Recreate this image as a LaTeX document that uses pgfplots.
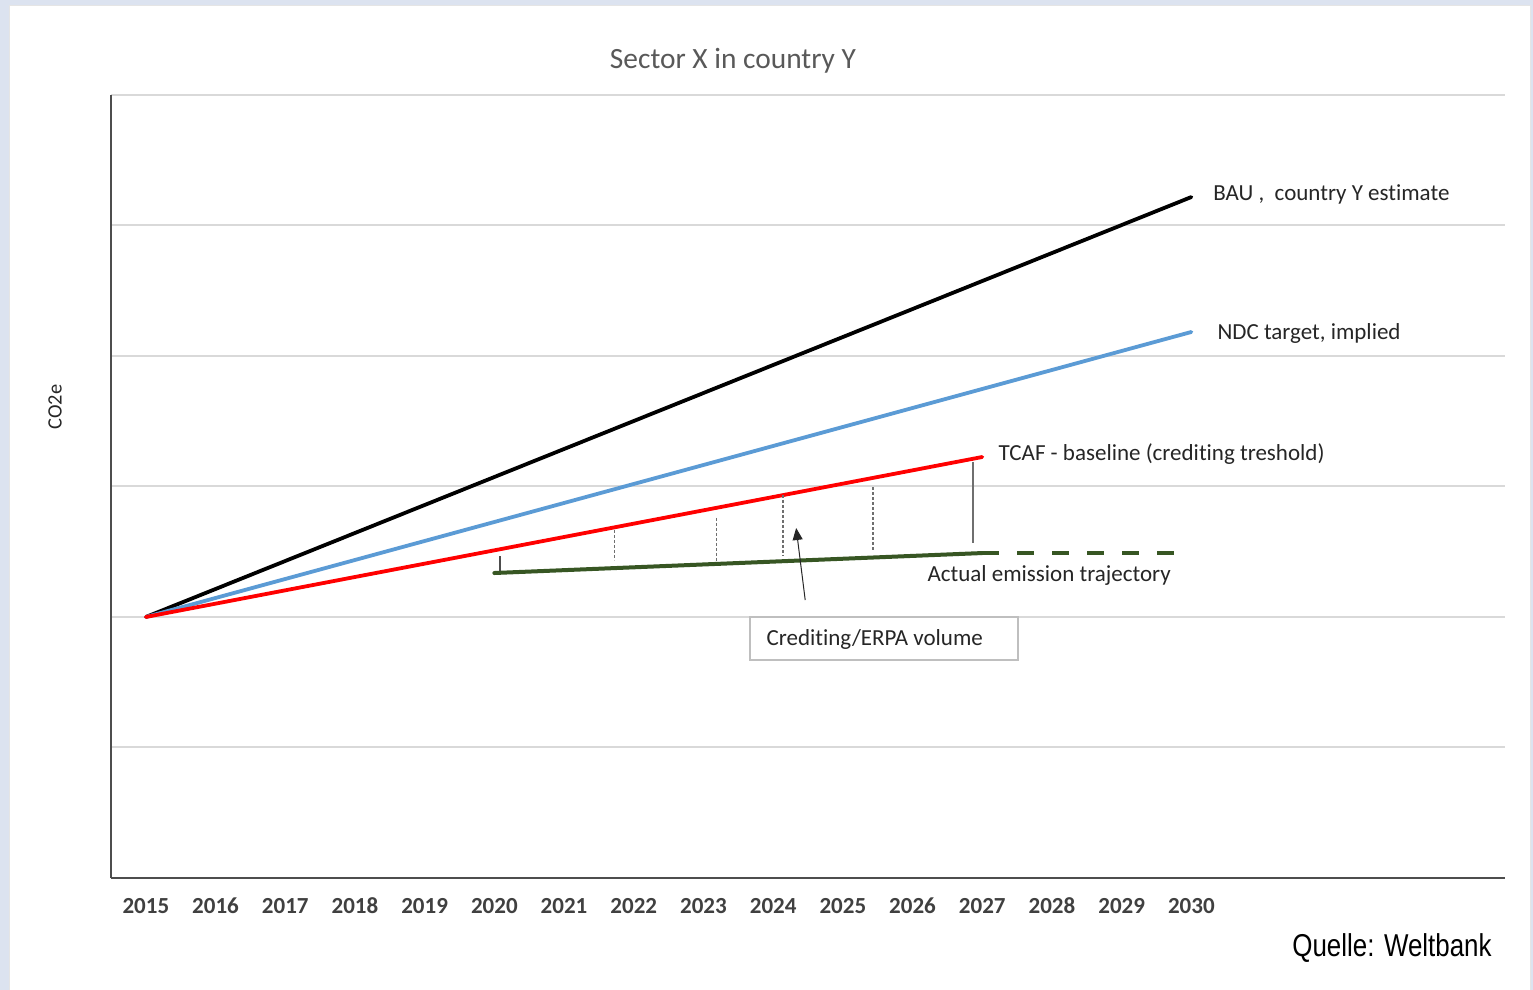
\documentclass[border=0pt]{standalone}
\usepackage{pgfplots}
\pgfplotsset{compat=1.18}
\usetikzlibrary{arrows.meta}
\usepackage{fontspec}
\setmainfont{Carlito}[Ligatures={NoCommon}]
\newfontfamily\quellefont[FakeStretch=0.82]{Liberation Sans}
\definecolor{frameblue}{HTML}{DCE3F0}
\definecolor{gridgray}{HTML}{D9D9D9}
\definecolor{axisgray}{HTML}{4D4D4D}
\definecolor{titlegray}{HTML}{595959}
\definecolor{labelblack}{HTML}{262626}
\definecolor{ticklab}{HTML}{404040}
\definecolor{ndcblue}{HTML}{5B9BD5}
\definecolor{actgreen}{HTML}{375623}
\definecolor{vgray}{HTML}{6F6F6F}
\definecolor{boxgray}{HTML}{BFBFBF}
\begin{document}
\begin{tikzpicture}
\fill[frameblue] (0pt,0pt) rectangle (766.5pt,495pt);
\fill[white] (4.5pt,0pt) rectangle (765.5pt,492pt);
\draw[black!10, line width=0.6pt] (4.8pt,0pt) -- (4.8pt,492.2pt) -- (765.2pt,492.2pt) -- (765.2pt,0pt);
\begin{axis}[
  at={(55.5pt,56pt)}, anchor=south west,
  scale only axis, width=697pt, height=391.5pt,
  xmin=2014.5, xmax=2034.5, ymin=0, ymax=6,
  axis x line*=bottom, axis y line*=left,
  axis line style={-, draw=axisgray, line width=1.4pt},
  xtick={2015,2016,2017,2018,2019,2020,2021,2022,2023,2024,2025,2026,2027,2028,2029,2030},
  xticklabels={2015,2016,2017,2018,2019,2020,2021,2022,2023,2024,2025,2026,2027,2028,2029,2030},
  ytick={1,2,3,4,5,6}, yticklabels={},
  ymajorgrids, grid style={draw=gridgray, line width=1pt},
  major tick length=0pt,
  x tick label style={font=\fontsize{11.5}{13}\selectfont\bfseries, text=ticklab, anchor=base, yshift=-18pt},
  clip=false,
]
% BAU
\addplot[black, line width=1.9pt, line cap=round] coordinates {(2015,2.0) (2030,5.218)};
% NDC
\addplot[ndcblue, line width=1.9pt, line cap=round] coordinates {(2015,2.0) (2030,4.184)};
% TCAF baseline
\addplot[red, line width=1.9pt, line cap=round] coordinates {(2015,2.0) (2027,3.226)};
% small tick at start of actual
\addplot[axisgray, line width=1pt] coordinates {(2020.08,2.337) (2020.08,2.467)};
% dotted verticals
\addplot[vgray, line width=0.7pt, dash pattern=on 1.3pt off 1.2pt] coordinates {(2021.72,2.667) (2021.72,2.437)};
\addplot[vgray, line width=0.7pt, dash pattern=on 1.3pt off 1.2pt] coordinates {(2023.19,2.759) (2023.19,2.421)};
\addplot[vgray, line width=0.7pt, dash pattern=on 1.3pt off 1.2pt] coordinates {(2024.14,2.935) (2024.14,2.475)};
\addplot[vgray, line width=0.7pt, dash pattern=on 1.3pt off 1.2pt] coordinates {(2025.43,2.996) (2025.43,2.498)};
\addplot[vgray, line width=0.7pt] coordinates {(2026.87,3.188) (2026.87,2.567)};
% actual emissions
\addplot[actgreen, line width=2pt, line cap=round] coordinates {(2020.0,2.337) (2027.0,2.49)};
\addplot[actgreen, line width=2pt, dash pattern=on 8.5pt off 9pt] coordinates {(2027.0,2.49) (2029.85,2.49)};
% arrow
\addplot[labelblack, line width=0.5pt, -{Triangle[length=6pt,width=5pt]}] coordinates {(2024.46,2.13) (2024.33,2.682)};
% box
\draw[boxgray, line width=0.7pt, fill=white] (axis cs:2023.67,1.670) rectangle (axis cs:2027.51,2.0);
\node[anchor=west, inner sep=0pt, yshift=-0.5pt, font=\fontsize{11.5}{13}\selectfont, text=labelblack] at (axis cs:2023.90,1.835) {Crediting/ERPA volume};
% labels
\node[anchor=west, inner sep=0pt, yshift=-1pt, font=\fontsize{11.5}{13}\selectfont, text=labelblack] at (axis cs:2030.31,5.257) {BAU ,\ \ country Y estimate};
\node[anchor=west, inner sep=0pt, yshift=-1pt, font=\fontsize{11.5}{13}\selectfont, text=labelblack] at (axis cs:2030.37,4.184) {NDC target, implied};
\node[anchor=west, inner sep=0pt, yshift=-1pt, font=\fontsize{11.5}{13}\selectfont, text=labelblack] at (axis cs:2027.23,3.264) {TCAF - baseline (crediting treshold)};
\node[anchor=west, inner sep=0pt, yshift=-1pt, font=\fontsize{11.5}{13}\selectfont, text=labelblack] at (axis cs:2026.21,2.337) {Actual emission trajectory};
\end{axis}
\node[font=\fontsize{14.7}{17}\selectfont, text=titlegray] at (366.5pt,464.5pt) {Sector X in country Y};
\node[rotate=90, font=\fontsize{10.2}{12}\selectfont, text=labelblack] at (27.5pt,291.5pt) {CO2e};
\node[anchor=base east, inner sep=0pt, font=\quellefont\fontsize{15.8}{18}\selectfont] at (746pt,16.5pt) {Quelle: Weltbank};
\pgfresetboundingbox
\path[use as bounding box] (0pt,0pt) rectangle (766.5pt,495pt);
\end{tikzpicture}
\end{document}
